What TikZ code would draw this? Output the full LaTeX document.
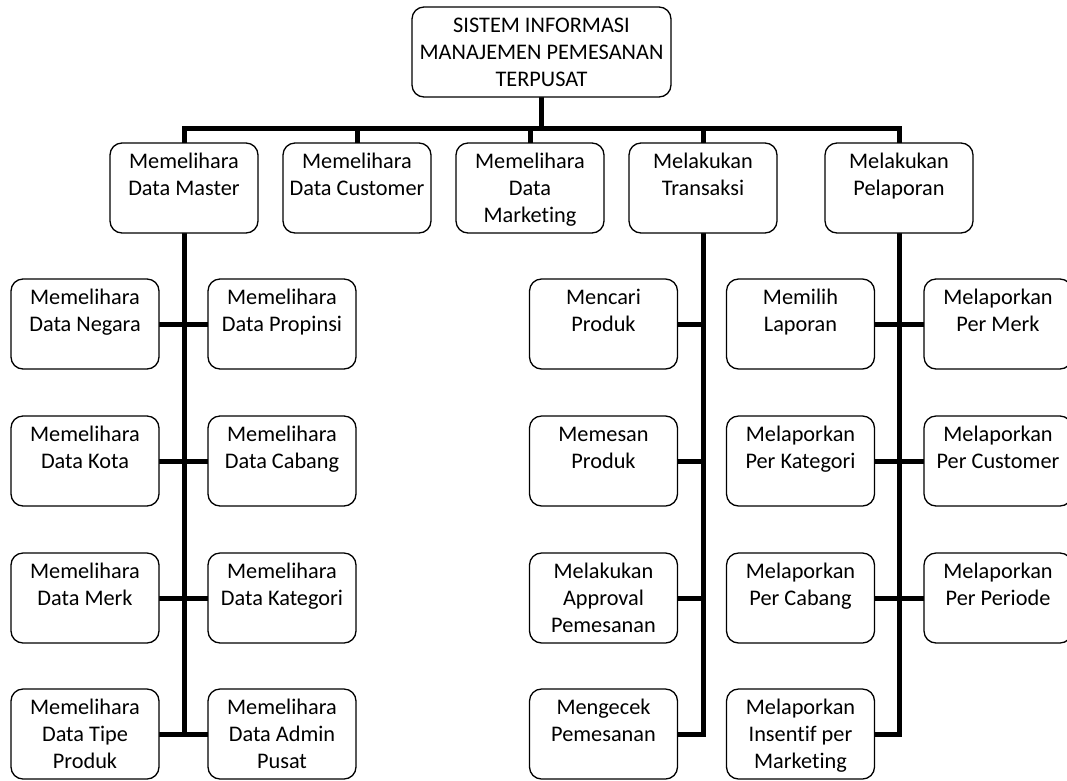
\documentclass[tikz,border=0pt]{standalone}
\usepackage{fontspec}
\setmainfont{Carlito}[Ligatures=NoCommon]
\usetikzlibrary{backgrounds}
\newcommand{\bt}[2][148pt]{\parbox[t][90pt][t]{#1}{\centering\vspace*{7pt}\strut #2\par}}
\begin{document}
\begin{tikzpicture}[x=1pt,y=-1pt,
  font=\fontsize{22.3}{27}\selectfont,
  box/.style={draw, fill=white, line width=1.3pt, rounded corners=12pt,
    inner sep=0pt, minimum width=148pt, minimum height=90pt},
  conn/.style={line width=5pt, line cap=rect}]
\useasboundingbox (0,0) rectangle (1067,780);
\coordinate (bus) at (541.5,128);
% ---- nodes
\node[box, minimum width=259pt] (root) at (541.5,52)
  {\bt[259pt]{SISTEM INFORMASI\\MANAJEMEN PEMESANAN\\TERPUSAT}};
\node[box] (master) at (184,188) {\bt{Memelihara\\Data Master}};
\node[box] (cust) at (357,188) {\bt{Memelihara\\Data Customer}};
\node[box] (mkt) at (530,188) {\bt{Memelihara\\Data\\Marketing}};
\node[box] (trx) at (703,188) {\bt{Melakukan\\Transaksi}};
\node[box] (lap) at (899,188) {\bt{Melakukan\\Pelaporan}};
% master children
\node[box] (a1) at (85,324) {\bt{Memelihara\\Data Negara}};
\node[box] (b1) at (282,324) {\bt{Memelihara\\Data Propinsi}};
\node[box] (a2) at (85,461) {\bt{Memelihara\\Data Kota}};
\node[box] (b2) at (282,461) {\bt{Memelihara\\Data Cabang}};
\node[box] (a3) at (85,598) {\bt{Memelihara\\Data Merk}};
\node[box] (b3) at (282,598) {\bt{Memelihara\\Data Kategori}};
\node[box] (a4) at (85,734) {\bt{Memelihara\\Data Tipe\\Produk}};
\node[box] (b4) at (282,734) {\bt{Memelihara\\Data Admin\\Pusat}};
% transaksi children
\node[box] (t1) at (603.5,324) {\bt{Mencari\\Produk}};
\node[box] (t2) at (603.5,461) {\bt{Memesan\\Produk}};
\node[box] (t3) at (603.5,598) {\bt{Melakukan\\Approval\\Pemesanan}};
\node[box] (t4) at (603.5,734) {\bt{Mengecek\\Pemesanan}};
% pelaporan children
\node[box] (l1) at (800.5,324) {\bt{Memilih\\Laporan}};
\node[box] (l2) at (800.5,461) {\bt{Melaporkan\\Per Kategori}};
\node[box] (l3) at (800.5,598) {\bt{Melaporkan\\Per Cabang}};
\node[box] (l4) at (800.5,734) {\bt{Melaporkan\\Insentif per\\Marketing}};
\node[box] (r1) at (998,324) {\bt{Melaporkan\\Per Merk}};
\node[box] (r2) at (998,461) {\bt{Melaporkan\\Per Customer}};
\node[box] (r3) at (998,598) {\bt{Melaporkan\\Per Periode}};
% ---- connectors, behind the boxes
\begin{scope}[on background layer]
\draw[conn] (root.south) -- (bus);
\draw[conn] (master.north |- bus) -- (lap.north |- bus);
\foreach \n in {master,cust,mkt,trx,lap}
  \draw[conn] (\n.north |- bus) -- (\n.north);
% master subtree
\draw[conn] (master.south) -- (master.south |- a4.east);
\foreach \i in {1,2,3,4}
  \draw[conn] (a\i.east) -- (b\i.west);
% transaksi subtree
\draw[conn] (trx.south) -- (trx.south |- t4.east);
\foreach \i in {1,2,3,4}
  \draw[conn] (t\i.east) -- (trx.south |- t\i.east);
% pelaporan subtree
\draw[conn] (lap.south) -- (lap.south |- l4.east);
\foreach \i in {1,2,3,4}
  \draw[conn] (l\i.east) -- (lap.south |- l\i.east);
\foreach \i in {1,2,3}
  \draw[conn] (r\i.west) -- (lap.south |- r\i.west);
\end{scope}
\end{tikzpicture}
\end{document}
